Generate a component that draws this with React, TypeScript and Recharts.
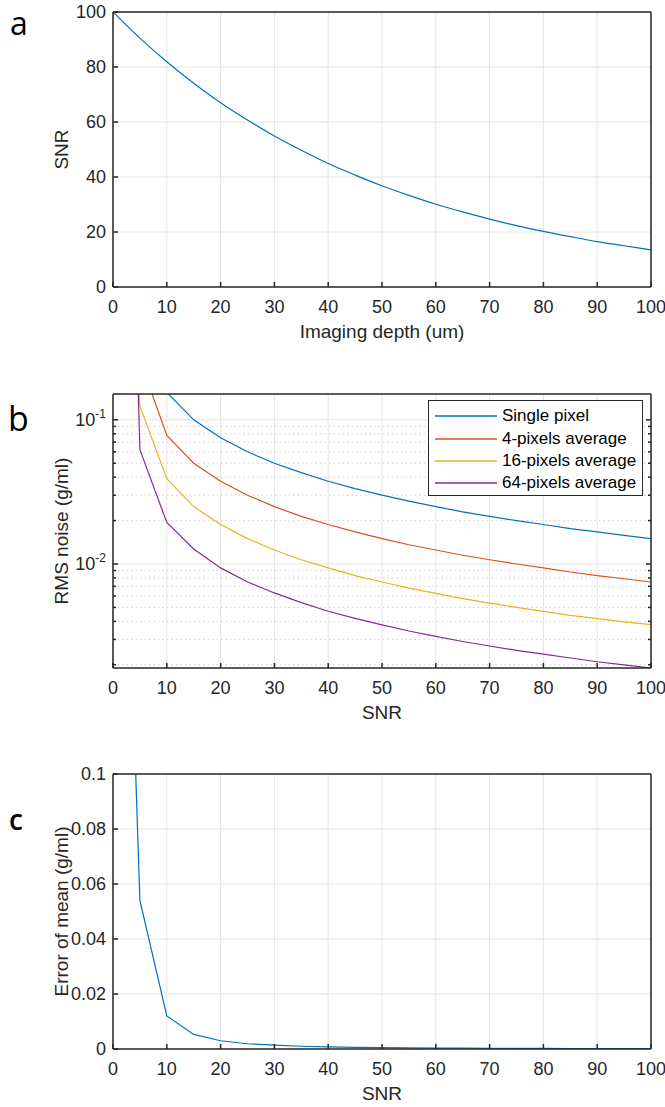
import { LineChart, Line, XAxis, YAxis, CartesianGrid, ReferenceLine, Legend } from "recharts"

// panel a: SNR against imaging depth
const depth = [0, 5, 10, 15, 20, 25, 30, 35, 40, 45, 50, 55, 60, 65, 70, 75, 80, 85, 90, 95, 100]
const snrVsDepth = [100, 90.5, 81.9, 74.1, 67.0, 60.7, 54.9, 49.7, 44.9, 40.7, 36.8, 33.3, 30.1, 27.3, 24.7, 22.3, 20.2, 18.3, 16.5, 15.0, 13.5]

// panels b and c: against SNR
const snr = [4, 5, 10, 15, 20, 25, 30, 35, 40, 45, 50, 55, 60, 65, 70, 75, 80, 85, 90, 95, 100]
const singlePixel = [2.5, 0.5, 0.155, 0.1, 0.075, 0.06, 0.05, 0.043, 0.0375, 0.0333, 0.03, 0.0273, 0.025, 0.023, 0.0214, 0.02, 0.0188, 0.0176, 0.0167, 0.0158, 0.015]
const fourPixels = [1.5, 0.26, 0.078, 0.05, 0.0375, 0.03, 0.025, 0.0214, 0.0188, 0.0167, 0.015, 0.0136, 0.0125, 0.0115, 0.0107, 0.01, 0.0094, 0.0088, 0.0083, 0.0079, 0.0075]
const sixteenPixels = [0.6, 0.125, 0.039, 0.025, 0.0188, 0.015, 0.0125, 0.0107, 0.0094, 0.0083, 0.0075, 0.0068, 0.00625, 0.00575, 0.00535, 0.005, 0.0047, 0.0044, 0.00418, 0.00397, 0.0038]
const sixtyFourPixels = [1.2, 0.062, 0.0194, 0.0127, 0.0094, 0.0075, 0.0063, 0.0054, 0.0047, 0.0042, 0.00378, 0.00343, 0.00315, 0.0029, 0.0027, 0.00252, 0.00237, 0.00223, 0.0021, 0.002, 0.0019]
const errorOfMean = [0.113, 0.054, 0.012, 0.0053, 0.003, 0.0019, 0.0014, 0.001, 0.0008, 0.0006, 0.0005, 0.0004, 0.00035, 0.0003, 0.00027, 0.00024, 0.0002, 0.00018, 0.00016, 0.00015, 0.00013]

const seriesNames = ["Single pixel", "4-pixels average", "16-pixels average", "64-pixels average"]

const xTicks = [0, 10, 20, 30, 40, 50, 60, 70, 80, 90, 100]
const snrTicks = [0, 20, 40, 60, 80, 100]
const logMajorTicks = [0.01, 0.1]
const logMinorTicks = [0.002, 0.003, 0.004, 0.005, 0.006, 0.007, 0.008, 0.009, 0.02, 0.03, 0.04, 0.05, 0.06, 0.07, 0.08, 0.09]
const errorTicks = [0, 0.02, 0.04, 0.06, 0.08, 0.1]

const logTicks = [...logMinorTicks, ...logMajorTicks].sort((p, q) => p - q)
const logDomain = [0.0019, 0.151]

const depthRows = depth.map((d, i) => ({ depth: d, snr: snrVsDepth[i] }))
const snrRows = snr.map((s, i) => ({
  snr: s,
  single: singlePixel[i],
  four: fourPixels[i],
  sixteen: sixteenPixels[i],
  sixtyFour: sixtyFourPixels[i],
  error: errorOfMean[i],
}))

const FONT = "'Liberation Sans', Arial, sans-serif"
const AXIS = "#262626"
const GRID = "#e4e4e4"
const axisStroke = { stroke: AXIS, strokeWidth: 1.5 }
const tickStyle = { fill: AXIS, fontSize: 18, fontFamily: FONT }

function xLabel(text: string) {
  return (props: any) => {
    const { x, y, width } = props.viewBox
    return (
      <text x={x + width / 2} y={y + 51} textAnchor="middle" fontSize={19} fontFamily={FONT} fill={AXIS}>
        {text}
      </text>
    )
  }
}

function yLabel(text: string, baseX: number) {
  return (props: any) => {
    const { y, height } = props.viewBox
    const cy = y + height / 2
    return (
      <text x={baseX} y={cy} transform={`rotate(-90, ${baseX}, ${cy})`} textAnchor="middle" fontSize={19} fontFamily={FONT} fill={AXIS}>
        {text}
      </text>
    )
  }
}

// left log axis: inward tick marks (long at decades) and 10^n labels
const logLeftTick = (props: any) => {
  const { x, y, payload } = props
  const major = logMajorTicks.includes(payload.value)
  const exp = Math.round(Math.log10(payload.value))
  return (
    <g>
      <line x1={x} x2={x + (major ? 5 : 3)} y1={y} y2={y} stroke={AXIS} strokeWidth={1.5} />
      {major && (
        <text x={x - 7} y={y} dy={6} textAnchor="end" fontSize={18} fontFamily={FONT} fill={AXIS}>
          <tspan>10</tspan>
          <tspan dy={-8} fontSize={12}>{exp}</tspan>
        </text>
      )}
    </g>
  )
}

const logRightTick = (props: any) => {
  const { x, y, payload } = props
  const major = logMajorTicks.includes(payload.value)
  return <line x1={x} x2={x - (major ? 5 : 3)} y1={y} y2={y} stroke={AXIS} strokeWidth={1.5} />
}

const renderLegend = (props: any) => {
  const entries = seriesNames
    .map((n) => props.payload.find((e: any) => e.value === n))
    .filter(Boolean)
  return (
    <div
      style={{
        boxSizing: "border-box",
        width: 215,
        height: 96,
        border: `1px solid ${AXIS}`,
        background: "#fff",
        paddingTop: 4,
        fontFamily: FONT,
        fontSize: 17,
        color: "#000",
      }}
    >
      {entries.map((entry: any) => (
        <div key={entry.value} style={{ display: "flex", alignItems: "center", height: 22.4 }}>
          <svg width={73} height={4} style={{ flex: "none" }}>
            <line x1={6} x2={68} y1={2} y2={2} stroke={entry.color} strokeWidth={1.5} />
          </svg>
          <span style={{ whiteSpace: "nowrap" }}>{entry.value}</span>
        </div>
      ))}
    </div>
  )
}

const letterStyle = { fontFamily: "'Open Sans', 'Noto Sans', sans-serif", fill: "#000" }

export default function App() {
  return (
    <div style={{ position: "absolute", left: 0, top: 0, width: 665, height: 1107, background: "#fff" }}>
      {/* a */}
      <div style={{ position: "absolute", left: 0, top: 0 }}>
        <LineChart width={665} height={360} data={depthRows} margin={{ top: 12, right: 14, bottom: 0, left: 0 }}>
          <CartesianGrid stroke={GRID} />
          <XAxis dataKey="depth" type="number" domain={[0, 100]} ticks={xTicks} interval={0} allowDataOverflow height={73}
            tickSize={-5} tickMargin={18} axisLine={axisStroke} tickLine={axisStroke} tick={tickStyle}
            label={xLabel("Imaging depth (um)")} />
          <XAxis xAxisId="top" orientation="top" mirror type="number" domain={[0, 100]} ticks={xTicks} interval={0} allowDataOverflow
            tickSize={5} tick={false} axisLine={axisStroke} tickLine={axisStroke} />
          <YAxis type="number" domain={[0, 100]} ticks={snrTicks} interval={0} allowDataOverflow width={113}
            tickSize={-5} tickMargin={12} axisLine={axisStroke} tickLine={axisStroke} tick={tickStyle}
            label={yLabel("SNR", 68)} />
          <YAxis yAxisId="right" orientation="right" mirror type="number" domain={[0, 100]} ticks={snrTicks} interval={0} allowDataOverflow
            tickSize={5} tick={false} axisLine={axisStroke} tickLine={axisStroke} />
          <Line type="monotone" dataKey="snr" stroke="#0072BD" strokeWidth={1.2} dot={false} isAnimationActive={false} />
        </LineChart>
      </div>

      {/* b */}
      <div style={{ position: "absolute", left: 0, top: 360 }}>
        <LineChart width={665} height={372} data={snrRows} margin={{ top: 34, right: 14, bottom: 0, left: 0 }}>
          <CartesianGrid stroke={GRID} horizontal={false} />
          {logMinorTicks.map((v) => (
            <ReferenceLine key={v} y={v} stroke="#cfcfcf" strokeDasharray="1.5 3" />
          ))}
          {logMajorTicks.map((v) => (
            <ReferenceLine key={v} y={v} stroke={GRID} />
          ))}
          <XAxis dataKey="snr" type="number" domain={[0, 100]} ticks={xTicks} interval={0} allowDataOverflow height={64}
            tickSize={-5} tickMargin={18} axisLine={axisStroke} tickLine={axisStroke} tick={tickStyle}
            label={xLabel("SNR")} />
          <XAxis xAxisId="top" orientation="top" mirror type="number" domain={[0, 100]} ticks={xTicks} interval={0} allowDataOverflow
            tickSize={5} tick={false} axisLine={axisStroke} tickLine={axisStroke} />
          <YAxis type="number" scale="log" domain={logDomain} ticks={logTicks} interval={0} allowDataOverflow width={113}
            tickSize={0} tickMargin={0} axisLine={axisStroke} tickLine={false} tick={logLeftTick}
            label={yLabel("RMS noise (g/ml)", 68)} />
          <YAxis yAxisId="right" orientation="right" mirror type="number" scale="log" domain={logDomain} ticks={logTicks} interval={0} allowDataOverflow
            tickSize={0} tickMargin={0} axisLine={axisStroke} tickLine={false} tick={logRightTick} />
          {/* legend follows seriesNames */}
          <Line type="linear" dataKey="single" name={seriesNames[0]} stroke="#0072BD" strokeWidth={1.2} dot={false} isAnimationActive={false} />
          <Line type="linear" dataKey="four" name={seriesNames[1]} stroke="#D95319" strokeWidth={1.2} dot={false} isAnimationActive={false} />
          <Line type="linear" dataKey="sixteen" name={seriesNames[2]} stroke="#EDB120" strokeWidth={1.2} dot={false} isAnimationActive={false} />
          <Line type="linear" dataKey="sixtyFour" name={seriesNames[3]} stroke="#7E2F8E" strokeWidth={1.2} dot={false} isAnimationActive={false} />
          <Legend layout="horizontal" verticalAlign="middle" align="center" content={renderLegend}
            wrapperStyle={{ position: "absolute", left: 428, top: 40, width: 215, height: 96 }} />
        </LineChart>
      </div>

      {/* c */}
      <div style={{ position: "absolute", left: 0, top: 720 }}>
        <LineChart width={665} height={387} data={snrRows} margin={{ top: 54, right: 14, bottom: 0, left: 0 }}>
          <CartesianGrid stroke={GRID} />
          <XAxis dataKey="snr" type="number" domain={[0, 100]} ticks={xTicks} interval={0} allowDataOverflow height={58}
            tickSize={-5} tickMargin={18} axisLine={axisStroke} tickLine={axisStroke} tick={tickStyle}
            label={xLabel("SNR")} />
          <XAxis xAxisId="top" orientation="top" mirror type="number" domain={[0, 100]} ticks={xTicks} interval={0} allowDataOverflow
            tickSize={5} tick={false} axisLine={axisStroke} tickLine={axisStroke} />
          <YAxis type="number" domain={[0, 0.1]} ticks={errorTicks} interval={0} allowDataOverflow width={113}
            tickSize={-5} tickMargin={12} axisLine={axisStroke} tickLine={axisStroke} tick={tickStyle}
            tickFormatter={(v: number) => String(v)} label={yLabel("Error of mean (g/ml)", 68)} />
          <YAxis yAxisId="right" orientation="right" mirror type="number" domain={[0, 0.1]} ticks={errorTicks} interval={0} allowDataOverflow
            tickSize={5} tick={false} axisLine={axisStroke} tickLine={axisStroke} />
          <Line type="linear" dataKey="error" stroke="#0072BD" strokeWidth={1.2} dot={false} isAnimationActive={false} />
        </LineChart>
      </div>

      <svg width={665} height={1107} style={{ position: "absolute", left: 0, top: 0, pointerEvents: "none" }}>
        <text x={10} y={35} fontSize={32} {...letterStyle}>a</text>
        <text x={8} y={431} fontSize={34} {...letterStyle}>b</text>
        <text x={9} y={830} fontSize={28} fontWeight={600} {...letterStyle}>c</text>
      </svg>
    </div>
  )
}
